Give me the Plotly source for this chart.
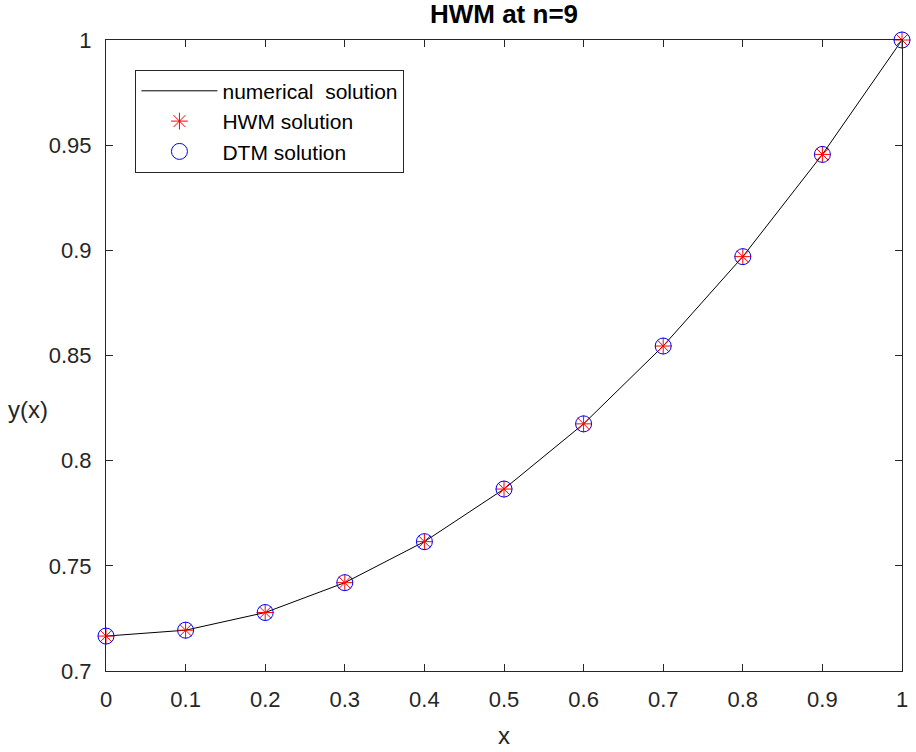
import plotly.graph_objects as go

x_vals = [0, 0.1, 0.2, 0.3, 0.4, 0.5, 0.6, 0.7, 0.8, 0.9, 1.0]
y_num = [0.7166, 0.7194, 0.7278, 0.7420, 0.7615, 0.7865, 0.8175, 0.8545, 0.8970, 0.9456, 1.0]
y_hwm = y_num
y_dtm = y_num
x_ticks = [0, 0.1, 0.2, 0.3, 0.4, 0.5, 0.6, 0.7, 0.8, 0.9, 1]
y_ticks = [0.7, 0.75, 0.8, 0.85, 0.9, 0.95, 1]

font = "Liberation Sans, Arial, sans-serif"

fig = go.Figure()
fig.add_trace(go.Scatter(x=x_vals, y=y_num, mode="lines", name="numerical  solution",
                         line=dict(color="black", width=1), cliponaxis=False))
fig.add_trace(go.Scatter(x=x_vals, y=y_hwm, mode="markers", name="HWM solution", cliponaxis=False,
                         marker=dict(symbol="asterisk-open", size=14, color="red",
                                     line=dict(color="red", width=1))))
fig.add_trace(go.Scatter(x=x_vals, y=y_dtm, mode="markers", name="DTM solution", cliponaxis=False,
                         marker=dict(symbol="circle-open", size=16, color="blue",
                                     line=dict(color="blue", width=1))))

axis_common = dict(showgrid=False, zeroline=False, showline=True, linecolor="#262626",
                   linewidth=1, mirror="ticks", ticks="inside", ticklen=7,
                   tickcolor="#262626", ticklabelstandoff=9,
                   tickfont=dict(family=font, size=22, color="#262626"))

fig.update_layout(
    width=916, height=752,
    margin=dict(l=106, r=8, t=40, b=79),
    paper_bgcolor="white", plot_bgcolor="white",
    title=dict(text="<b>HWM at n=9</b>", xref="paper", x=0.5, xanchor="center",
               y=0.993, yanchor="top",
               font=dict(family=font, size=26, color="black")),
    xaxis=dict(range=[0, 1], tickvals=x_ticks, ticktext=[str(v) for v in x_ticks],
               title=dict(text="x", font=dict(family=font, size=24, color="#262626"), standoff=15),
               **axis_common),
    yaxis=dict(range=[0.7, 1], tickvals=y_ticks, ticktext=[str(v) for v in y_ticks],
               **axis_common),
    legend=dict(x=0.037, y=0.953, xanchor="left", yanchor="top",
                bgcolor="white", bordercolor="#262626", borderwidth=1,
                font=dict(family=font, size=21, color="black"), tracegroupgap=0,
                itemwidth=76),
    showlegend=True,
)
fig.add_annotation(text="y(x)", xref="paper", yref="paper", x=-0.0985, y=0.415,
                   showarrow=False, xanchor="center", yanchor="middle",
                   font=dict(family=font, size=24, color="#262626"))

fig.write_html("out.html")
